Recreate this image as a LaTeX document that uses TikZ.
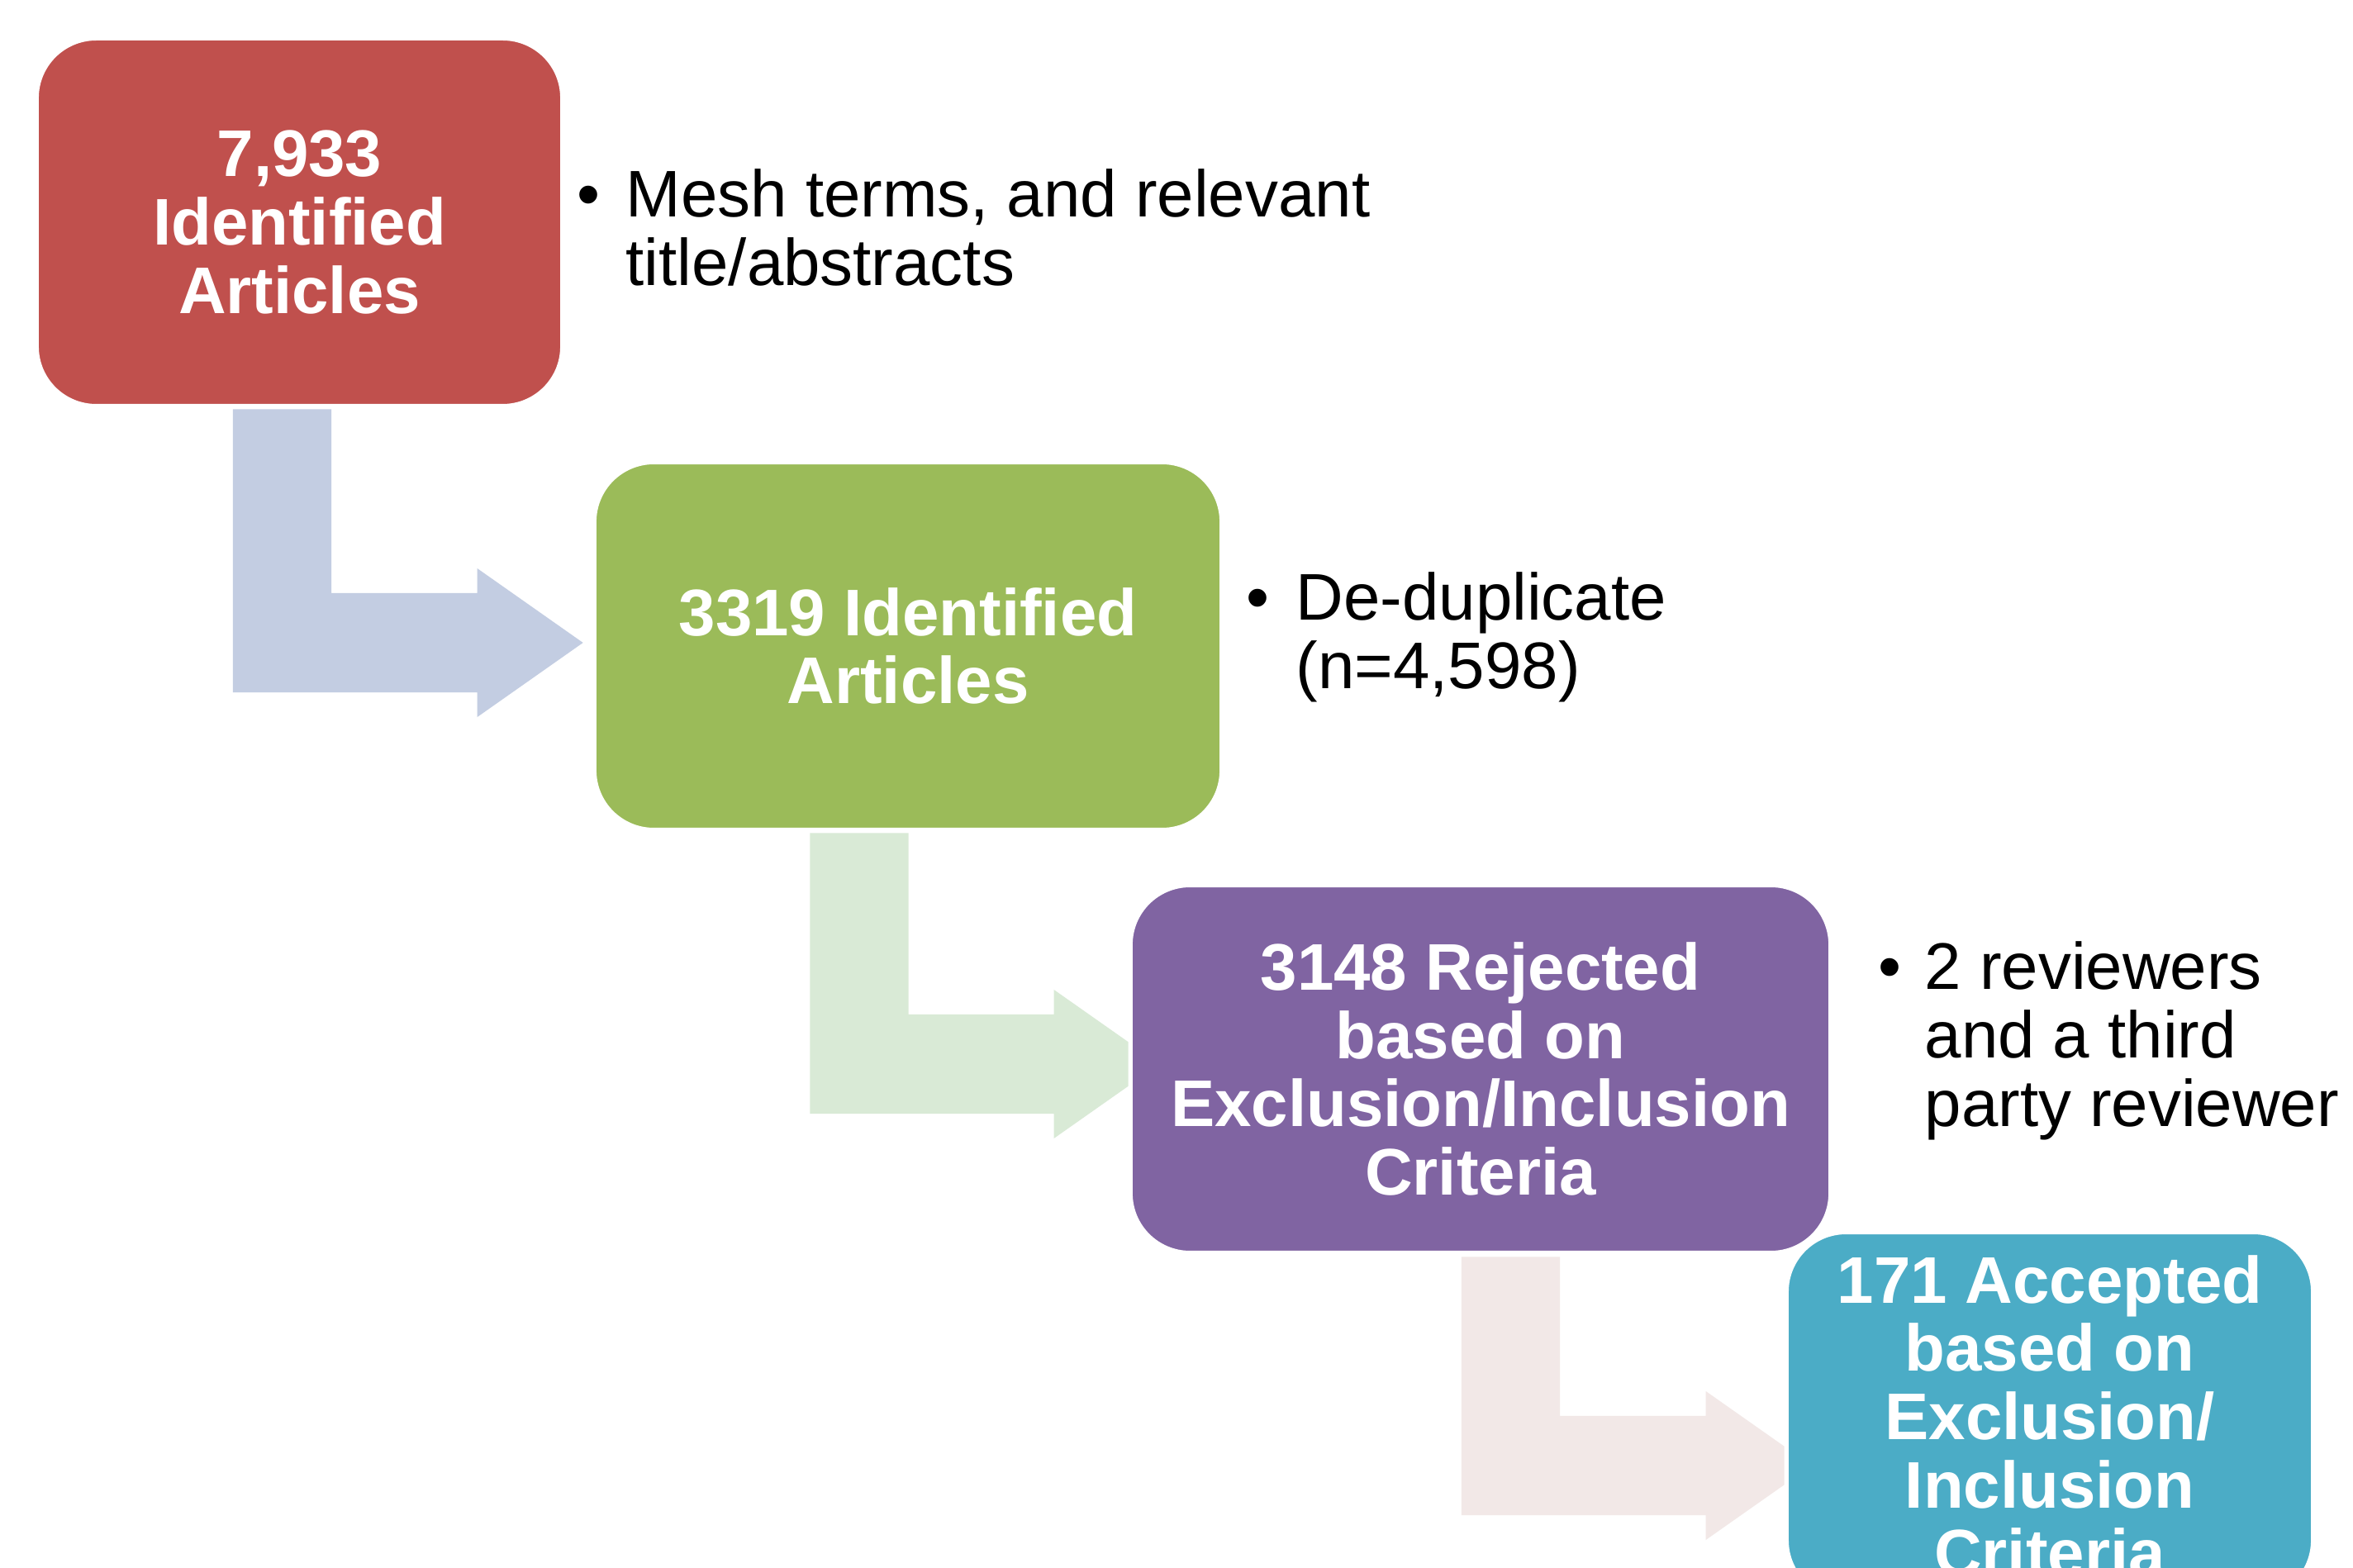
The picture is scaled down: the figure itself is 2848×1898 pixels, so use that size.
\documentclass[tikz,border=0pt]{standalone}
\usepackage{fontspec}
\setmainfont{Liberation Sans}
\usetikzlibrary{calc,backgrounds}
\definecolor{cred}{HTML}{C0504D}
\definecolor{cgreen}{HTML}{9BBB59}
\definecolor{cpurple}{HTML}{8064A2}
\definecolor{cteal}{HTML}{4BACC6}
\definecolor{ablue}{RGB}{195,205,226}
\definecolor{agreen}{RGB}{217,234,214}
\definecolor{apink}{RGB}{242,232,231}
\newcommand\diagfont{\fontsize{22.7pt}{23.5pt}\selectfont}
\newcommand\bentarrow[3]{%
  \fill[#1] let \p1=#2, \p2=#3 in
  (\x1-0.595cm,\y1) -- (\x1+0.595cm,\y1) -- (\x1+0.595cm,\y2+0.6cm)
  -- (\x2-1.28cm,\y2+0.6cm) -- (\x2-1.28cm,\y2+0.9cm) -- (\x2,\y2)
  -- (\x2-1.28cm,\y2-0.9cm) -- (\x2-1.28cm,\y2-0.6cm)
  -- (\x1-0.595cm,\y2-0.6cm) -- cycle;}
\tikzset{
  stage/.style={rounded corners=20.5pt, draw=white, line width=1.5pt,
    minimum height=4.45cm, text=white, font=\diagfont\bfseries,
    align=center, inner sep=0pt},
  note/.style={font=\diagfont, anchor=base west, inner sep=0pt},
  dot/.style={font=\diagfont, anchor=base, inner sep=0pt},
}
\begin{document}
\begin{tikzpicture}[x=0.01cm,y=-0.01cm]
\clip (0,0) rectangle (2848,1898);

\node[stage, fill=cred, minimum width=6.36cm] (red) at (362.5,269) {7,933\\Identified\\Articles};
\node[stage, fill=cgreen, minimum width=7.59cm] (green) at (1099,782) {3319 Identified\\Articles};
\node[stage, fill=cpurple, minimum width=8.47cm] (purple) at (1792,1294) {3148 Rejected\\based on\\Exclusion/Inclusion\\Criteria};
\node[stage, fill=cteal, minimum width=6.37cm] (teal) at (2481,1714) {171 Accepted\\based on\\Exclusion/\\Inclusion\\Criteria};

\begin{scope}[on background layer]
  \fill[white] (0,0) rectangle (2848,1898);
  \bentarrow{ablue}{($(red.south)+(-21,1)$)}{($(green.west)+(-11,-4)$)}
  \bentarrow{agreen}{($(green.south)+(-59,1)$)}{($(purple.west)+(38,-6)$)}
  \bentarrow{apink}{($(purple.south)+(36.5,2)$)}{($(teal.west)+(33,60)$)}
\end{scope}

\node[dot] (b1) at (712,263) {•};
\node[note] (n1) at (757,263) {\begin{tabular}[t]{@{}l@{}}Mesh terms, and relevant\\title/abstracts\end{tabular}};
\node[dot] (b2) at (1522,751) {•};
\node[note] (n2) at (1568,751) {\begin{tabular}[t]{@{}l@{}}De-duplicate\\(n=4,598)\end{tabular}};
\node[dot] (b3) at (2287,1198) {•};
\node[note] (n3) at (2329,1198) {\begin{tabular}[t]{@{}l@{}}2 reviewers\\and a third\\party reviewer\end{tabular}};
\end{tikzpicture}
\end{document}
